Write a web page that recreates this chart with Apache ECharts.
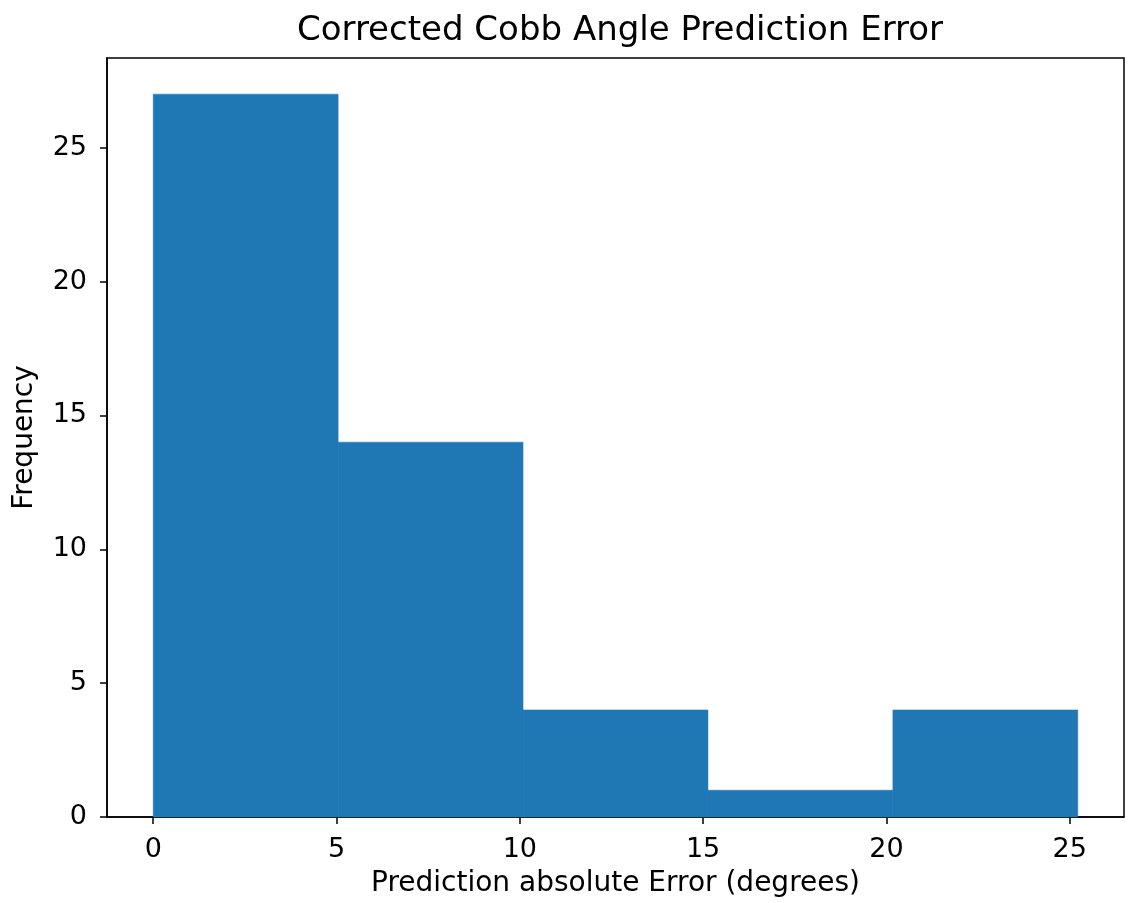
<!DOCTYPE html>
<html>
<head>
<meta charset="utf-8">
<script src="https://cdn.jsdelivr.net/npm/echarts@6/dist/echarts.min.js"></script>
<style>
  html, body { margin: 0; padding: 0; background: #fff; }
  #chart { width: 1129px; height: 903px; }
</style>
</head>
<body>
<div id="chart"></div>
<script>
// histogram bins (edges) and counts
var binEdges = [0, 5.044, 10.088, 15.132, 20.176, 25.22];
var counts = [27, 14, 4, 1, 4];
var xTicks = [0, 5, 10, 15, 20, 25];
var yTicks = [0, 5, 10, 15, 20, 25];

var bars = counts.map(function (c, i) {
    return [binEdges[i], binEdges[i + 1], c];
});

var font = "DejaVu Sans";

option = {
    "backgroundColor": "#FFFFFF",
    "animation": false,
    "title": {
        "text": "Corrected Cobb Angle Prediction Error",
        "left": 615,
        "textAlign": "center",
        "top": 9,
        "textStyle": {
            "color": "#000",
            "fontWeight": "normal",
            "fontFamily": font,
            "fontSize": 34
        }
    },
    "grid": {
        "left": 107,
        "right": 5,
        "top": 58,
        "bottom": 86,
        "show": true,
        "borderColor": "#000",
        "borderWidth": 1.5,
        "backgroundColor": "#fff"
    },
    "xAxis": {
        "type": "value",
        "min": -1.261,
        "max": 26.481,
        "name": "Prediction absolute Error (degrees)",
        "nameLocation": "middle",
        "nameGap": 53,
        "nameTextStyle": { "color": "#000", "fontFamily": font, "fontSize": 28 },
        "axisLine": { "show": true, "onZero": false, "lineStyle": { "color": "#000", "width": 1.5 } },
        "axisTick": { "show": true, "length": 7, "customValues": xTicks, "lineStyle": { "color": "#000", "width": 1.5 } },
        "axisLabel": { "customValues": xTicks, "margin": 19, "color": "#000", "fontFamily": font, "fontSize": 27 },
        "splitLine": { "show": false }
    },
    "yAxis": {
        "type": "value",
        "min": 0,
        "max": 28.35,
        "name": "Frequency",
        "nameLocation": "middle",
        "nameGap": 68,
        "nameTextStyle": { "color": "#000", "fontFamily": font, "fontSize": 28 },
        "axisLine": { "show": true, "onZero": false, "lineStyle": { "color": "#000", "width": 1.5 } },
        "axisTick": { "show": true, "length": 7, "customValues": yTicks, "lineStyle": { "color": "#000", "width": 1.5 } },
        "axisLabel": { "customValues": yTicks, "margin": 20, "color": "#000", "fontFamily": font, "fontSize": 27 },
        "splitLine": { "show": false }
    },
    "series": [{
        "type": "custom",
        "data": bars,
        "encode": { "x": [0, 1], "y": 2 },
        "renderItem": function (params, api) {
            var p0 = api.coord([api.value(0), api.value(2)]);
            var p1 = api.coord([api.value(1), 0]);
            return {
                "type": "rect",
                "shape": { "x": p0[0], "y": p0[1], "width": p1[0] - p0[0], "height": p1[1] - p0[1] },
                "style": { "fill": "#1f77b4", "stroke": "#1f77b4", "lineWidth": 0.5 }
            };
        }
    }]
};

myChart = echarts.init(document.getElementById('chart'));
myChart.setOption(option);
</script>
</body>
</html>
